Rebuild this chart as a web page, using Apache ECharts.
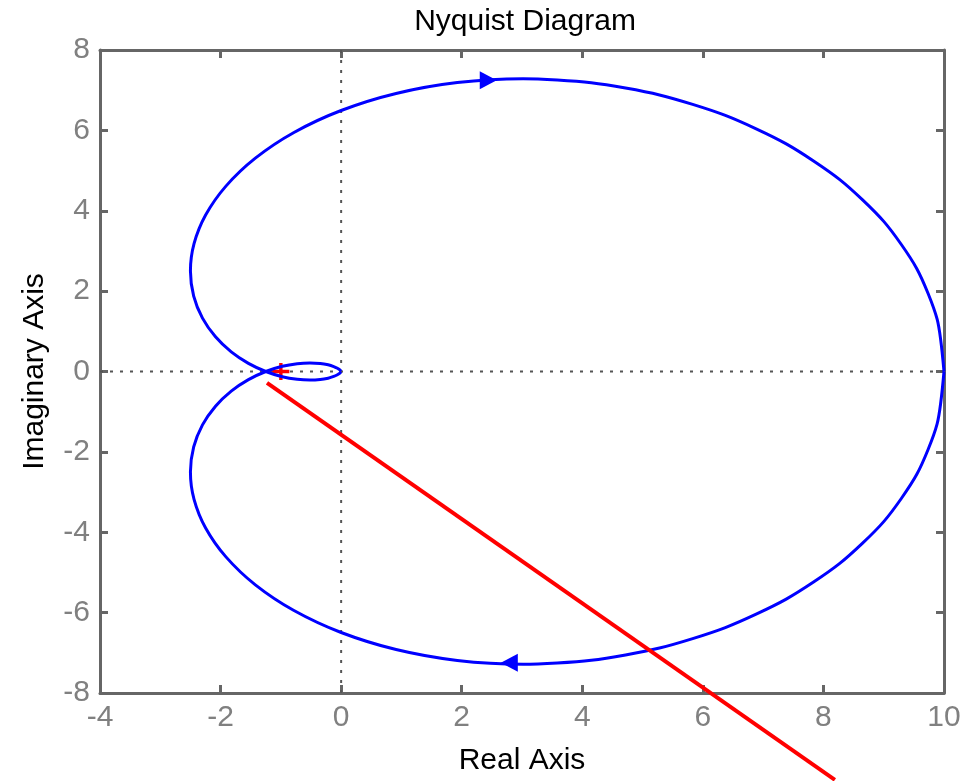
<!DOCTYPE html>
<html><head><meta charset="utf-8">
<script src="https://cdn.jsdelivr.net/npm/echarts@6/dist/echarts.min.js"></script>
<style>html,body{margin:0;padding:0;background:#fff}#c{width:966px;height:781px}</style>
</head><body><div id="c"></div>
<script>
// Positive-frequency branch (lower half + small loop)
const posRe = [10, 9.886, 9.549, 9.004, 8.271, 7.383, 6.373, 5.281, 4.149, 3.018, 1.927, 0.911, 0, -0.783, -1.423, -1.911, -2.248, -2.440, -2.5, -2.446, -2.300, -2.084, -1.823, -1.538, -1.25, -0.976, -0.729, -0.518, -0.346, -0.216, -0.123, -0.062, -0.026, -0.002, 0];
const posIm = [0, -1.302, -2.559, -3.729, -4.776, -5.665, -6.373, -6.882, -7.186, -7.286, -7.191, -6.919, -6.495, -5.948, -5.309, -4.613, -3.893, -3.180, -2.5, -1.877, -1.328, -0.863, -0.488, -0.202, 0, 0.129, 0.195, 0.214, 0.200, 0.166, 0.123, 0.080, 0.045, 0.006, 0];
// Negative-frequency branch (upper half + small loop)
const negRe = [10, 9.886, 9.549, 9.004, 8.271, 7.383, 6.373, 5.281, 4.149, 3.018, 1.927, 0.911, 0, -0.783, -1.423, -1.911, -2.248, -2.440, -2.5, -2.446, -2.300, -2.084, -1.823, -1.538, -1.25, -0.976, -0.729, -0.518, -0.346, -0.216, -0.123, -0.062, -0.026, -0.002, 0];
const negIm = [0, 1.302, 2.559, 3.729, 4.776, 5.665, 6.373, 6.882, 7.186, 7.286, 7.191, 6.919, 6.495, 5.948, 5.309, 4.613, 3.893, 3.180, 2.5, 1.877, 1.328, 0.863, 0.488, 0.202, 0, -0.129, -0.195, -0.214, -0.200, -0.166, -0.123, -0.080, -0.045, -0.006, 0];
// Direction arrows
const arrowUpper = [2.44, 7.25];
const arrowLower = [2.79, -7.25];
// Critical point
const critical = [-1, 0];
// Red annotation line
const redLine = [[-1.23, -0.285], [8.19, -10.16]];
// Axes
const xRange = [-4, 10];
const yRange = [-8, 8];
const tickStep = 2;

const zip = (a, b) => a.map((v, i) => [v, b[i]]);
const FONT = "'Liberation Sans', Arial, sans-serif";
const AX = '#666666';

const chart = echarts.init(document.getElementById('c'), null, {renderer: 'canvas'});
const axisCommon = {
  type: 'value', interval: tickStep,
  axisLine: {show: true, onZero: false, lineStyle: {color: AX, width: 3}},
  axisTick: {show: true, inside: true, length: 8, lineStyle: {color: AX, width: 3}},
  splitLine: {show: false}
};
chart.setOption({
  animation: false,
  backgroundColor: '#ffffff',
  title: {text: 'Nyquist Diagram', left: 520, textAlign: 'center', top: 2,
    textStyle: {fontFamily: FONT, fontSize: 30, fontWeight: 'normal', color: '#000'}},
  grid: {left: 100, right: 22, top: 50, bottom: 86},
  xAxis: [
    Object.assign({}, axisCommon, {min: xRange[0], max: xRange[1], position: 'bottom',
      name: 'Real Axis', nameLocation: 'middle', nameGap: 53,
      nameTextStyle: {fontFamily: FONT, fontSize: 30, color: '#000'},
      axisLabel: {fontFamily: FONT, fontSize: 30, color: '#808080', margin: 10}}),
    Object.assign({}, axisCommon, {min: xRange[0], max: xRange[1], position: 'top',
      axisLabel: {show: false}})
  ],
  yAxis: [
    Object.assign({}, axisCommon, {min: yRange[0], max: yRange[1], position: 'left',
      name: 'Imaginary Axis', nameLocation: 'middle', nameGap: 50,
      nameTextStyle: {fontFamily: FONT, fontSize: 30, color: '#000'},
      axisLabel: {fontFamily: FONT, fontSize: 30, color: '#808080', margin: 10}}),
    Object.assign({}, axisCommon, {min: yRange[0], max: yRange[1], position: 'right',
      axisLabel: {show: false}})
  ],
  series: [
    {type: 'line', data: [[0, yRange[0]], [0, yRange[1]]], symbol: 'none', silent: true, z: 1,
      lineStyle: {color: '#555', width: 2, type: [3, 7]}},
    {type: 'line', data: [[xRange[0], 0], [xRange[1], 0]], symbol: 'none', silent: true, z: 1,
      lineStyle: {color: '#555', width: 2, type: [3, 7]}},
    {type: 'scatter', data: [critical], z: 2, symbol: 'path://M4,0H6V4H10V6H6V10H4V6H0V4H4Z',
      symbolSize: 17, itemStyle: {color: '#ff0000', opacity: 1}},
    {type: 'line', data: zip(posRe, posIm), symbol: 'none', z: 3, smooth: 0.25,
      lineStyle: {color: '#0000ff', width: 3}},
    {type: 'line', data: zip(negRe, negIm), symbol: 'none', z: 3, smooth: 0.25,
      lineStyle: {color: '#0000ff', width: 3}},
    {type: 'scatter', z: 4, symbol: 'triangle', symbolSize: [18, 17],
      itemStyle: {color: '#0000ff', opacity: 1},
      data: [{value: arrowUpper, symbolRotate: -90}, {value: arrowLower, symbolRotate: 90}]},
    {type: 'line', data: redLine, symbol: 'none', clip: false, z: 10,
      lineStyle: {color: '#ff0000', width: 4}}
  ]
});
</script></body></html>
